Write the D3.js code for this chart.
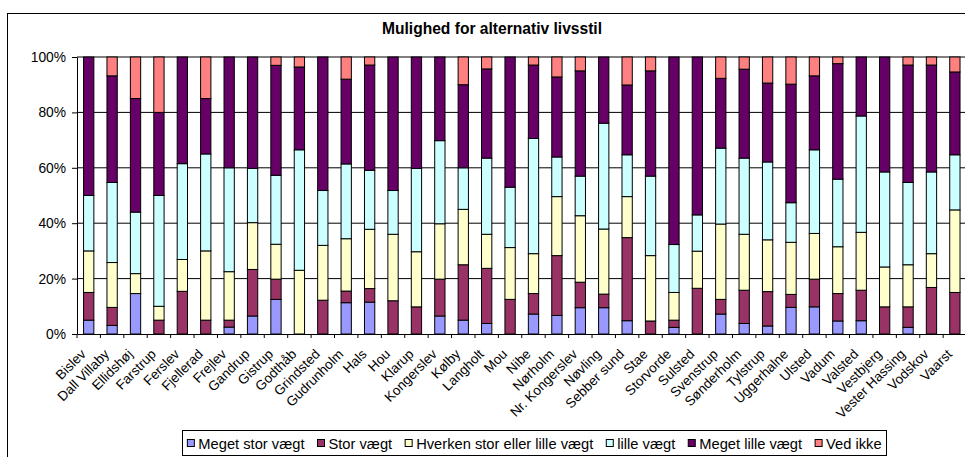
<!DOCTYPE html>
<html><head><meta charset="utf-8">
<script src="https://cdn.jsdelivr.net/npm/d3@7"></script>
<style>
body{margin:0;background:#fff;}
svg{display:block;font-family:"Liberation Sans",Arial,sans-serif;}
</style></head>
<body><svg id="c" width="965" height="457"></svg>
<script>
const categories = ["Bislev","Dall Villaby","Ellidshøj","Farstrup","Ferslev","Fjellerad","Frejlev","Gandrup","Gistrup","Godthåb","Grindsted","Gudrunholm","Hals","Hou","Klarup","Kongerslev","Kølby","Langholt","Mou","Nibe","Nørholm","Nr. Kongerslev","Nøvling","Sebber sund","Stae","Storvorde","Sulsted","Svenstrup","Sønderholm","Tylstrup","Uggerhalne","Ulsted","Vadum","Valsted","Vestbjerg","Vester Hassing","Vodskov","Vaarst"];
const seriesNames = ["Meget stor vægt","Stor vægt","Hverken stor eller lille vægt","lille vægt","Meget lille vægt","Ved ikke"];
const seriesColors = ["#9999FF","#993366","#FFFFCC","#CCFFFF","#660066","#FF8080"];
const megetStor = [5,3.1,14.6,0,0,0,2.5,6.5,12.5,0,0,11.3,11.5,0,0,6.5,5,3.8,0,7.2,6.7,9.5,9.5,4.8,0,2.4,0,7.2,3.8,2.9,9.6,9.8,4.7,4.8,0,2.4,0,0];
const stor = [10,6.5,0,5,15.4,5,2.5,16.8,7.3,0,12.2,4.2,4.9,12,9.8,13.3,20,19.9,12.5,7.4,21.6,9.2,4.9,30,4.7,2.6,16.5,5.3,12,12.4,4.7,10,9.9,11,9.8,7.4,16.8,15];
const hverken = [15,16.2,7.2,5,11.5,25,17.5,16.9,12.6,23,19.8,18.9,21.4,24,19.9,20,20,12.3,18.7,14.4,21.3,24,23.5,14.8,23.6,10,13.4,27.2,20.2,18.7,18.8,16.5,16.9,20.9,14.4,15.2,12.2,29.8];
const lille = [20,28.9,22.2,40,34.6,35,37.5,19.6,24.9,43.5,19.8,27,21.3,15.8,30.1,30,15,27.5,21.8,41.6,14.3,14.3,38.2,15.1,28.7,17.3,13.1,27.4,27.5,28.1,14.3,30.2,24.4,42,34.3,29.7,29.5,19.9];
const megetLille = [50,38.5,41,30,38.5,20,40,40.2,39.7,29.9,48.2,30.6,38,48.2,40.2,30.2,30,32.2,47,26.5,28.9,38,23.9,25.2,38,67.7,57,25.2,32.1,28.5,42.8,26.7,41.7,21.3,41.5,42.4,38.6,29.9];
const vedIkke = [0,6.8,15,20,0,15,0,0,3,3.6,0,8,2.9,0,0,0,10,4.3,0,2.9,7.2,5,0,10.1,5,0,0,7.7,4.4,9.4,9.8,6.8,2.4,0,0,2.9,2.9,5.4];
const yTicks = [0,0.2,0.4,0.6,0.8,1];
const chartTitle = "Mulighed for alternativ livsstil";

const seriesValues = [megetStor,stor,hverken,lille,megetLille,vedIkke];
const rows = categories.map((c,i)=>{const r={cat:c};seriesNames.forEach((s,j)=>r[s]=seriesValues[j][i]);return r;});
const stacked = d3.stack().keys(seriesNames).offset(d3.stackOffsetExpand)(rows);

const svg = d3.select("#c");
svg.append("rect").attr("x",7.5).attr("y",13.5).attr("width",1000).attr("height",500).attr("fill","#fff").attr("stroke","#000");

const plotLeft=77, plotTop=57, plotBottom=334, step=23.41;
const x = d3.scaleBand().domain(categories).range([plotLeft,plotLeft+step*categories.length]).paddingInner(0.56).paddingOuter(0.28);
const y = d3.scaleLinear().domain([0,1]).range([plotBottom,plotTop]);

svg.append("text").attr("x",492).attr("y",34).attr("text-anchor","middle").attr("font-weight","bold").attr("font-size",15.6).text(chartTitle);

// gridlines
svg.append("g").selectAll("line").data(yTicks.slice(1)).join("line")
  .attr("x1",plotLeft).attr("x2",965).attr("y1",d=>y(d)).attr("y2",d=>y(d)).attr("stroke","#000").attr("stroke-width",1);

// bars
svg.append("g").selectAll("g").data(stacked).join("g").attr("fill",(d,i)=>seriesColors[i])
  .selectAll("rect").data(d=>d).join("rect")
  .attr("x",d=>x(d.data.cat)).attr("width",x.bandwidth())
  .attr("y",d=>y(d[1])).attr("height",d=>y(d[0])-y(d[1]))
  .attr("stroke","#000").attr("stroke-width",1);

// y axis
const ya = svg.append("g").attr("transform",`translate(${plotLeft},0)`)
  .call(d3.axisLeft(y).tickValues(yTicks).tickFormat(d3.format(".0%")).tickSize(5).tickSizeOuter(0).tickPadding(6));
ya.selectAll("text").attr("font-size",13.8).attr("font-family","Liberation Sans, Arial, sans-serif").attr("fill","#000");
ya.selectAll("line,path").attr("stroke","#000");

// x axis
const xa = svg.append("g").attr("transform",`translate(0,${plotBottom})`)
  .call(d3.axisBottom(x).tickSize(0).tickSizeOuter(0));
xa.select(".domain").attr("stroke","#000");
xa.selectAll("text").attr("y",0).attr("dy",null).attr("text-anchor","end")
  .attr("font-size",13.5).attr("font-family","Liberation Sans, Arial, sans-serif").attr("fill","#000")
  .attr("transform","translate(-2,21) rotate(-45)");
xa.append("g").selectAll("line").data(d3.range(categories.length+1)).join("line")
  .attr("x1",i=>plotLeft+i*x.step()).attr("x2",i=>plotLeft+i*x.step()).attr("y1",0).attr("y2",4).attr("stroke","#000");

// legend
const lg = svg.append("g");
lg.append("rect").attr("x",182.5).attr("y",430.5).attr("width",704).attr("height",25).attr("fill","#fff").attr("stroke","#000");
let cx = 0;
const items = lg.append("g");
seriesNames.forEach((s,i)=>{
  items.append("rect").attr("x",cx).attr("y",439.5).attr("width",7).attr("height",7).attr("fill",seriesColors[i]).attr("stroke","#000");
  const t = items.append("text").attr("x",cx+11).attr("y",448.5).attr("font-size",14.7).text(s);
  cx += 11 + t.node().getComputedTextLength() + 13;
});
const w = cx-13;
items.attr("transform",`translate(${534.5 - w/2},0)`);
</script></body></html>
